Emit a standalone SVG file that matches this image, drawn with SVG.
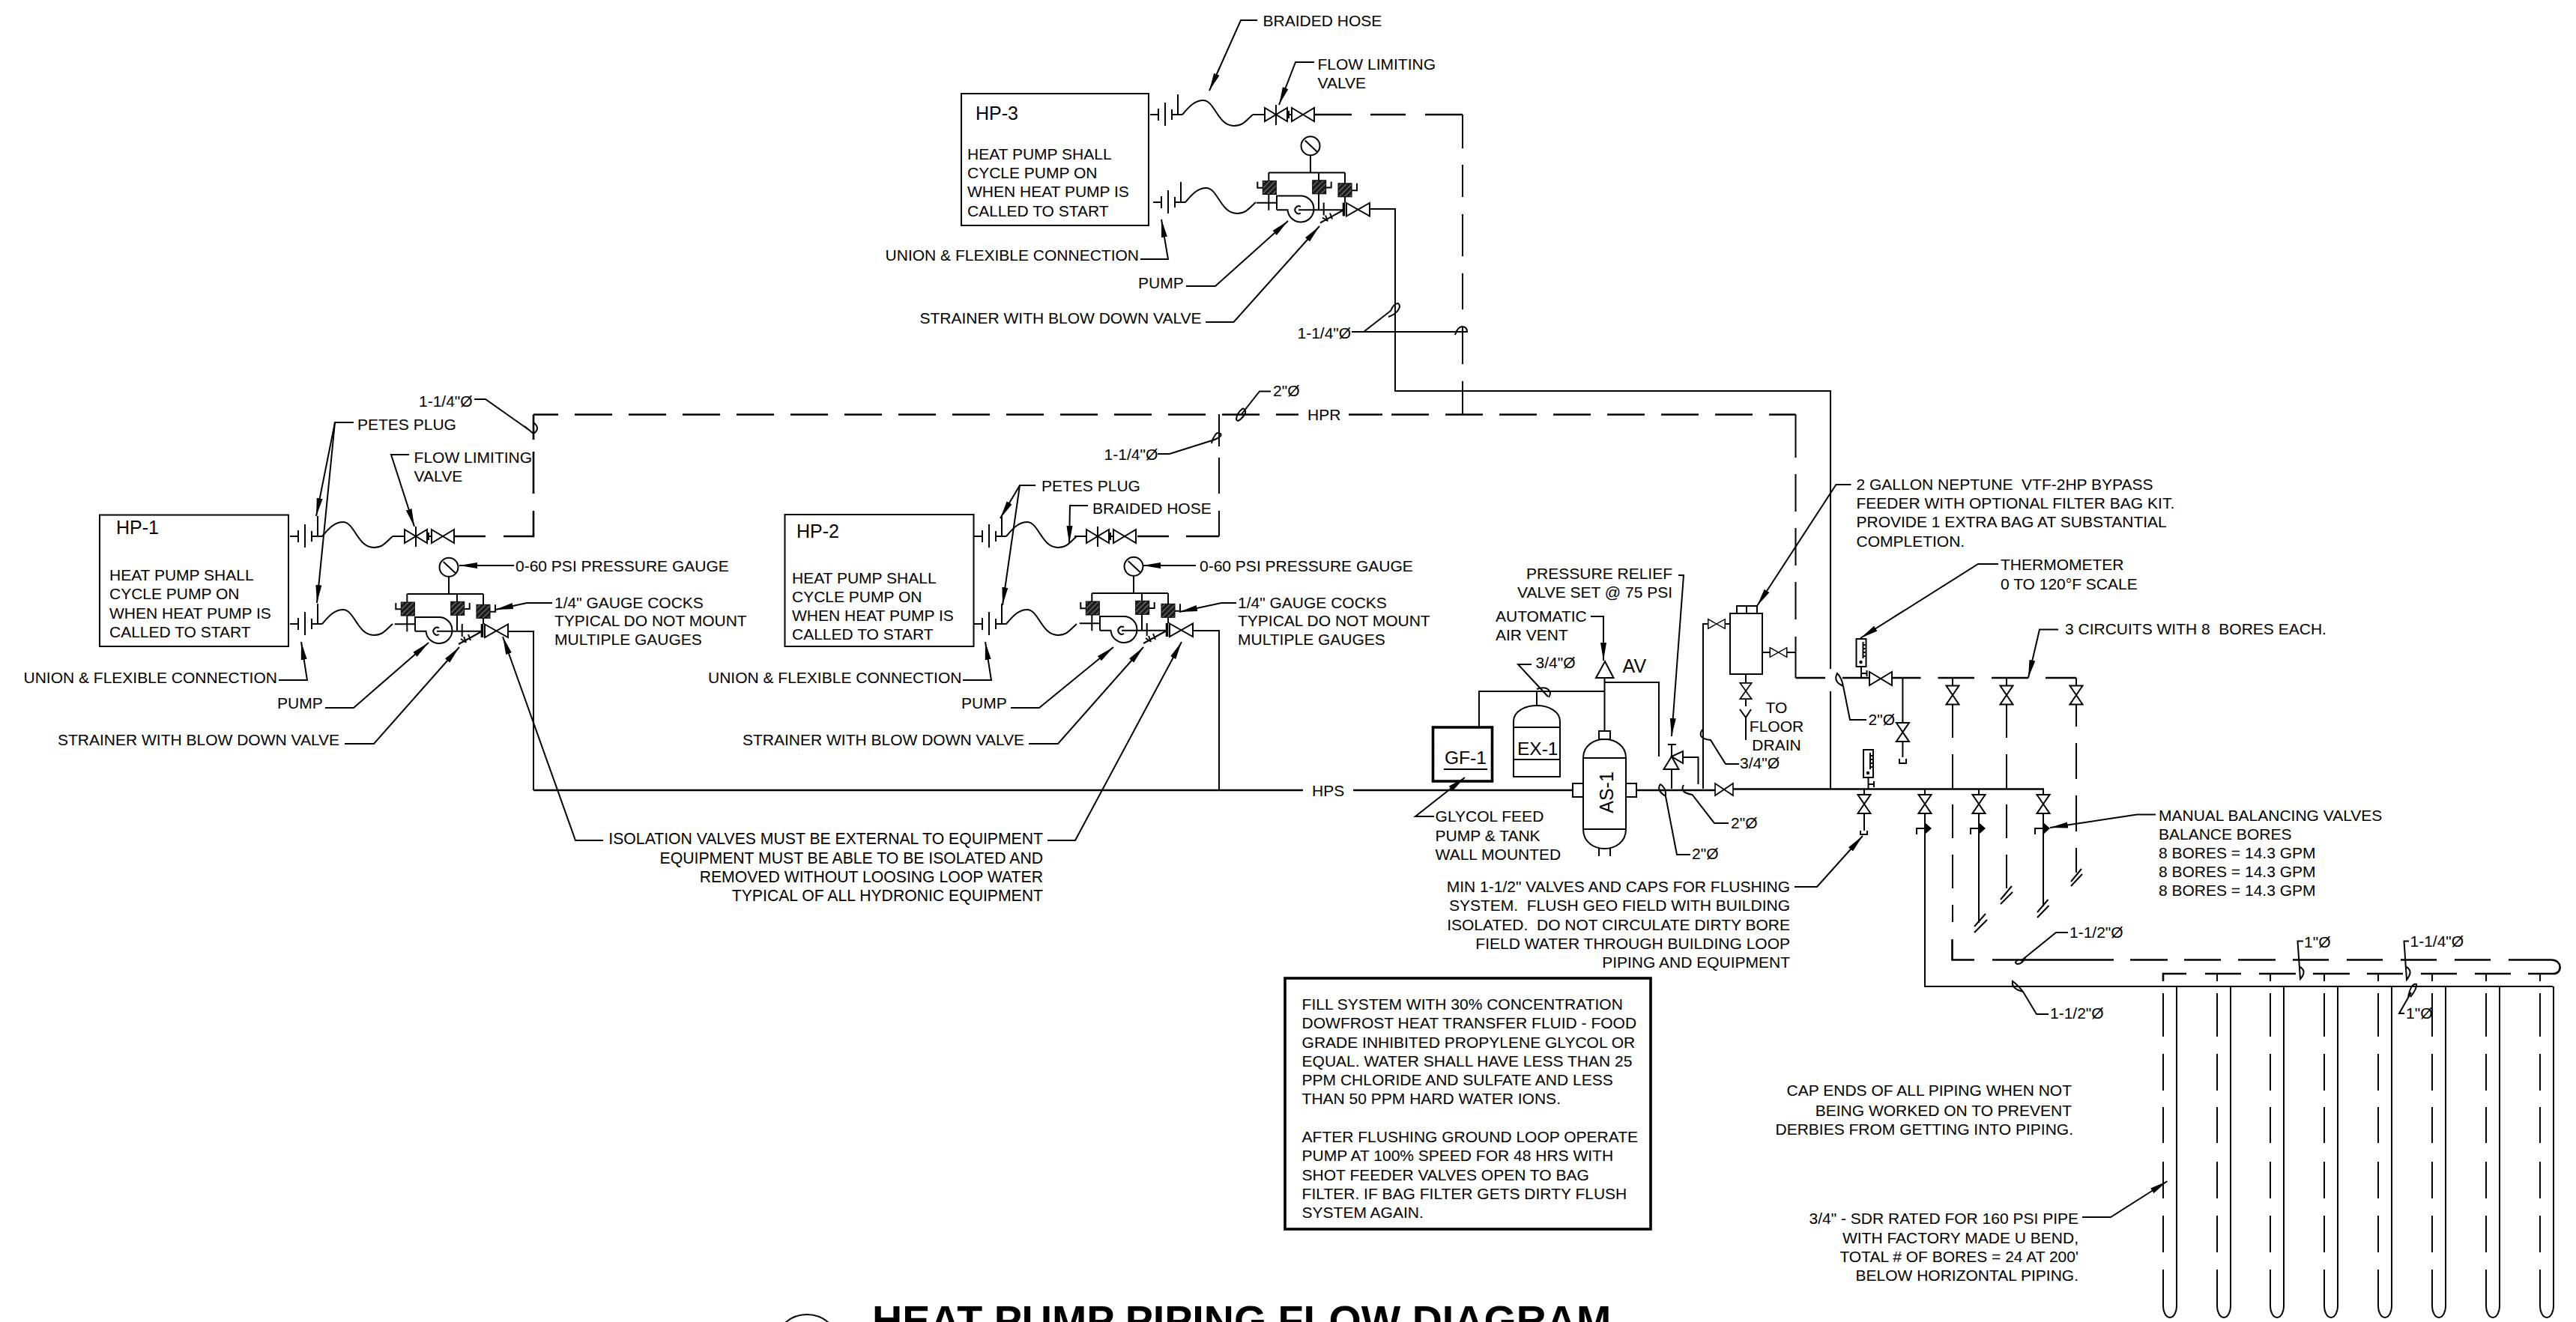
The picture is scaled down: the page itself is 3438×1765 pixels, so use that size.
<svg xmlns="http://www.w3.org/2000/svg" width="3438" height="1765" viewBox="0 0 3438 1765">
<style>
.l{fill:none;stroke:#000;stroke-width:2}
.h{fill:none;stroke:#000;stroke-width:2.6}
.k{fill:none;stroke:#000;stroke-width:3.6}
.w{fill:#fff;stroke:#000;stroke-width:2}
.dd{stroke-dasharray:50 22}
.t{font-family:"Liberation Sans",Arial,sans-serif;font-size:21px;fill:#000;white-space:pre}
.r{text-anchor:end}
.c{text-anchor:middle}
.b{font-size:25px}
.a{fill:none;stroke:#000;stroke-width:2;marker-end:url(#arr)}
.title{font-family:"Liberation Sans",Arial,sans-serif;font-weight:700;font-size:55.6px;fill:#000}
</style>
<defs>
<marker id="arr" markerUnits="userSpaceOnUse" markerWidth="26" markerHeight="12" refX="24" refY="6" orient="auto"><path d="M0,2 L24,6 L0,10Z" fill="#000"/></marker>
<pattern id="hatch" width="5" height="5" patternUnits="userSpaceOnUse" patternTransform="rotate(45)"><rect width="5" height="5" fill="#1c1c1c"/><rect width="0.8" height="5" fill="#999"/></pattern>
<g id="flex"><path class="l" d="M2,0 H13 M13,-8 V8 M22,-16 V15 M31,-7 V7 M31,0 H45 M39,0 V-27 M45,0 C55,-12 62,-19 73,-19 C88,-19 92,15 114,15 C126,15 130,8 139,0"/></g>
<g id="vh"><path class="w" d="M-15,-9 L15,9 V-9 L-15,9Z"/></g>
<g id="vv"><path class="w" d="M-8.5,-12.5 L8.5,12.5 H-8.5 L8.5,-12.5Z"/></g>
<g id="fl"><use href="#vh" x="170"/><path class="l" d="M170,-13 V14 M139,0 H155 M185,0 H191 M187,-5 V5"/><use href="#vh" x="206"/></g>
<g id="pump">
<circle class="w" cx="119" cy="37.3" r="12.5" stroke-width="2.4"/>
<path class="l" d="M111.7,30 L127.7,45 M119,50 V73 M63.3,73 H165 M63.3,73 V123.3 M130,73 V122 M165,73 V113 M48.3,85 V93.3 H55.3 M139.7,93 H146.7 V85 M174,96.7 H181 V87.3 M46.7,113.3 H74"/>
<rect x="55.3" y="84" width="18" height="18" fill="url(#hatch)" stroke="#000"/>
<rect x="121.7" y="83.3" width="18" height="18" fill="url(#hatch)" stroke="#000"/>
<rect x="156" y="87.3" width="18" height="18" fill="url(#hatch)" stroke="#000"/>
<path class="l" d="M74,122.7 V104 H106 A17.5,17.5 0 1 1 88.5,122.7 H74 M106,118.5 A5,5 0 1 0 106,127 M103,122.7 H165 M136.7,113 V130 M163,123 L132,140 M139,130 l3,8 M145,127 l3,8 M135,133 l6,4"/>
<path class="k" d="M163.5,113 V131"/>
<path class="w" d="M167,113.5 L198,131 V113.5 L167,131Z"/>
</g>
<g id="therm"><rect class="w" x="0" y="0" width="13" height="37"/><path class="l" stroke-width="1" d="M9,4 V26 M9,8 h3 M9,13 h3 M9,18 h3 M9,23 h3 M6.5,37 V52 M6.5,46 H14 M14,42 V50"/><circle cx="6" cy="31" r="2.2"/></g>
<g id="bv"><path d="M0,-8 L9,0 L0,8Z"/><path class="l" d="M0,0 H-11 V8"/></g>
<g id="bore"><path class="l" d="M0,1300 V1310 M0,1326 V1384 M0,1407 V1456 M0,1478 V1526 M0,1551 V1600 M0,1623 V1672 M0,1695 V1744 A9,15 0 0 0 18,1744 V1317"/></g>
</defs>

<g id="connectors">
<!-- HPR return -->
<path class="h" d="M648,716 H606 M672,716 H712 V682 M712,659 V603 M712,587 V553.5"/>
<path class="h dd" stroke-dashoffset="17" d="M712,553.5 H1733"/>
<path class="h dd" d="M1800,553.5 H1845"/>
<path class="h dd" d="M1857,553.5 H2396.5"/>
<path class="l" d="M2396.5,553 V611 M2396.5,633 V683 M2396.5,705 V755 M2396.5,777 V827 M2396.5,850 V905"/>
<path class="h" d="M2396.5,905 H2436 M2459,905 H2498 M2522,905 H2563.5 M2586.5,905 H2635 M2658,905 H2707 M2730,905 H2771"/>
<!-- HP-2 return riser -->
<path class="l" d="M1627,553 V596 M1627,611 V659 M1627,682 V716"/>
<path class="h" d="M1518,716 H1560 M1583,716 H1627"/>
<!-- HP-3 return riser -->
<path class="h" d="M1754,153 H1804 M1829,153 H1876 M1902,153 H1952"/>
<path class="l" d="M1952,153 V198 M1952,220 V263 M1952,286 V342 M1952,365 V413 M1952,437 V486 M1952,509 V553"/>
<!-- HPS supply -->
<path class="l" d="M678,843 H712 V1055"/>
<path class="h" d="M712,1055 H1739 M1806,1055 H2099"/>
<path class="l" d="M1592,842 H1627 V1055"/>
<path class="l" d="M1827,279 H1862 V522 H2443 V893 M2443,923 V1053"/>
<!-- plant pipes -->
<path class="h" d="M2184,1055 H2289 M2313,1053.5 H2728"/>
<path class="l" d="M1974,970 V923 H2141.5 M2141.5,976 V905 M2141.5,911 H2214 V1010 M2231,1053 V1027 M2231,1010 V994 M2226,994 H2237 M2246,1011 H2266.5 V1047 M2273,1053 V833 H2280 M2302,833 H2309 M2352,871 H2363 M2384,871 H2396.5 M2330,900 V912 M2330,933 V943 M2322,947 L2330,958 L2337,947 M2330,958 V988 M2051,923 V942"/>
<!-- field piping -->
<path class="l" d="M2539.4,905 V965 M2539.4,990 V1011 M2535,1013 V1019 H2544 V1013"/>
<path class="l" d="M2606,905 V916 M2678,905 V916 M2771,905 V916"/>
<path class="l" stroke-dasharray="45 22" d="M2606,940 V1231"/>
<path class="l" stroke-dasharray="45 22" d="M2678,940 V1189"/>
<path class="l" stroke-dasharray="48 22" stroke-dashoffset="18" d="M2771,940 V1165"/>
<path class="l" d="M2778,1160 L2764,1177 M2779,1167 L2764,1183 M2685,1183 L2670,1201 M2686,1191 L2670,1207 M2733.5,1201 L2719,1218 M2734.5,1209 L2719,1225 M2650,1220 L2635,1237 M2652,1228 L2635,1245"/>
<path class="l" d="M2488,1053 V1061 M2488,1086 V1109 M2483,1109 V1114 H2492 V1109"/>
<path class="l" d="M2569,1053 V1061 M2641,1053 V1061 M2727,1053 V1061 M2569,1086 V1317 H3407 M2641,1086 V1232 M2727,1086 V1210"/>
<path class="h" d="M2605.5,1254 V1281.5 H2635 M2659,1281.5 H2821 M2843,1281.5 H2893 M2915,1281.5 H2964 M2987,1281.5 H3037 M3060,1281.5 H3108 M3132,1281.5 H3180 M3204,1281.5 H3252 M3276,1281.5 H3324 M3348,1281.5 H3405 C3420,1281.5 3420,1300 3408,1300 H3374 M3351,1300 H3303 M3279,1300 H3231 M3207,1300 H3159 M3136,1300 H3087 M3064,1300 H3015 M2991,1300 H2943 M2918,1300 H2887 V1310"/>
</g>

<g id="leaders">
<!-- HP-1 -->
<path class="a" d="M472,564 H447 L422,689"/><path class="a" d="M447,564 L423,805"/>
<path class="a" d="M546,607 H522 L553,703"/>
<path class="l" d="M633,533 H648 L706,574 M700,569 L712,579 Q722,572 712,564"/>
<path class="a" d="M686,755 H613"/>
<path class="a" d="M737,805 H703 L661,814"/>
<path class="a" d="M372,908 H410 L402,857"/>
<path class="a" d="M434,945 H472 L572,858"/>
<path class="a" d="M460,993 H499 L613,864"/>
<path class="a" d="M805,1122 H768 L671,850"/>
<!-- HP-2 -->
<path class="a" d="M1382,648 H1361 L1335,692"/><path class="a" d="M1361,648 L1338,808"/>
<path class="a" d="M1452,675 H1428 L1427,726"/>
<path class="l" d="M1545,606 H1561 L1621,587 Q1632,582 1629,579 Q1624,576 1621,582 Q1618,586 1617,592"/>
<path class="l" d="M1696,522.5 H1681 L1657,553 M1659,545 Q1665,549 1660,555 Q1652,565 1650,560 Q1650,552 1659,545"/>
<path class="a" d="M1596,755 H1525"/>
<path class="a" d="M1650,805 H1630 L1574,817"/>
<path class="a" d="M1285,908 H1323 L1315,857"/>
<path class="a" d="M1349,945 H1387 L1486,864"/>
<path class="a" d="M1373,993 H1412 L1526,864"/>
<path class="a" d="M1398,1122 H1435 L1577,857"/>
<!-- HP-3 -->
<path class="a" d="M1678,27 H1656 L1614,121"/>
<path class="a" d="M1754,83 H1729 L1707,140"/>
<path class="a" d="M1522,346 H1559 L1550,293"/>
<path class="a" d="M1583,382 H1622 L1719,295"/>
<path class="a" d="M1609,430 H1646.5 L1761,302"/>
<path class="l" d="M1804,443 H1958 Q1958,436 1951,436 Q1945,437 1942,447 M1820,443 L1856,415 Q1860,405 1866,405 Q1870,408 1866,414 Q1862,420 1853,423"/>
<!-- plant -->
<path class="a" d="M1914,1090 H1889 L1955,1038"/>
<path class="a" d="M2123,823 H2140 V882"/>
<path class="a" d="M2240,768 H2247 L2231,983"/>
<path class="l" d="M2044,887 H2026 L2066,930 M2051,920 Q2066,915 2069,925 Q2069,928 2067,931"/>
<path class="l" d="M2256,1141 H2238 L2223,1063 Q2210,1055 2216,1047 Q2224,1052 2223,1063"/>
<path class="l" d="M2307,1099 H2288 L2258.5,1061 Q2241,1058 2247,1048"/>
<path class="l" d="M2321,1020 H2303 L2283,988 Q2264,986 2272,974"/>
<path class="a" d="M2470.5,647 H2450.5 L2345,809"/>
<path class="a" d="M2667,753 H2640 L2483,852"/>
<path class="a" d="M2747,840.5 H2722 L2707,905"/>
<path class="l" d="M2491,961 H2469 L2460,916 Q2446,910 2452,899 Q2458,905 2460,916"/>
<path class="a" d="M2395,1184 H2425 L2486,1116"/>
<path class="a" d="M2877,1087.6 H2852 L2736,1105"/>
<path class="l" d="M2760,1245 H2744 L2697,1283 M2703,1279 Q2698,1288 2692,1287 Q2687,1285 2694,1281"/>
<path class="l" d="M2734,1354 H2718 L2700,1324 Q2684,1320 2686,1310 Q2692,1314 2700,1324"/>
<path class="l" d="M3074,1256.6 H3066.5 L3070,1307 Q3080,1296 3068,1290"/>
<path class="l" d="M3215,1256.6 H3208.5 L3212,1308 Q3222,1296 3210,1290"/>
<path class="l" d="M3209,1353 H3202 L3218,1325 M3214,1331 Q3218,1312 3225,1314 Q3226,1320 3217,1331"/>
<path class="a" d="M2779,1625 H2817 L2892.5,1577"/>
</g>

<g id="hp-1">
<rect class="l" x="133" y="687.5" width="252" height="175.5"/>
<text class="t b" x="155" y="713">HP-1</text>
<text class="t" x="146" y="775">HEAT PUMP SHALL</text>
<text class="t" x="146" y="800">CYCLE PUMP ON</text>
<text class="t" x="146" y="826">WHEN HEAT PUMP IS</text>
<text class="t" x="146" y="851">CALLED TO START</text>
<use href="#flex" x="385" y="716"/><use href="#fl" x="385" y="716"/>
<use href="#flex" x="385" y="833"/><use href="#pump" x="480" y="720"/>
</g>
<g id="hp-2">
<rect class="l" x="1047.5" y="687" width="252" height="176"/>
<text class="t b" x="1063" y="718">HP-2</text>
<text class="t" x="1057" y="778.6">HEAT PUMP SHALL</text>
<text class="t" x="1057" y="803.6">CYCLE PUMP ON</text>
<text class="t" x="1057" y="829">WHEN HEAT PUMP IS</text>
<text class="t" x="1057" y="854">CALLED TO START</text>
<use href="#flex" x="1298" y="716"/><use href="#fl" x="1295" y="716"/>
<use href="#flex" x="1298" y="833"/><use href="#pump" x="1394" y="719"/>
</g>
<g id="hp-3">
<rect class="l" x="1283" y="125" width="250" height="176"/>
<text class="t b" x="1302" y="160">HP-3</text>
<text class="t" x="1291" y="213">HEAT PUMP SHALL</text>
<text class="t" x="1291" y="238">CYCLE PUMP ON</text>
<text class="t" x="1291" y="263">WHEN HEAT PUMP IS</text>
<text class="t" x="1291" y="289">CALLED TO START</text>
<use href="#flex" x="1533" y="153"/><use href="#fl" x="1533" y="153"/>
<use href="#flex" x="1537" y="270"/><use href="#pump" x="1630" y="157.5"/>
</g>

<g id="gf-1">
<rect class="k" x="1912.5" y="971" width="79" height="72"/>
<text class="t" style="font-size:24.5px" x="1928" y="1020">GF-1</text>
<path class="l" d="M1927,1027 H1985"/>
</g>
<g id="ex-1">
<path class="l" d="M2020,1037 V963 C2020,950 2035,942 2051,942 C2067,942 2082,950 2082,963 V1037 Z M2020,971 H2082 M2020,1014 H2082"/>
<text class="t" style="font-size:24.5px" x="2025" y="1008">EX-1</text>
</g>
<g id="as-1">
<path class="w" d="M2099,1046 H2116 V1064 H2099Z M2168,1046 H2184 V1064 H2168Z M2134,976 H2149 V987 H2134Z"/>
<path class="w" d="M2113,1012 C2113,995 2128,987 2141.5,987 C2155,987 2170,995 2170,1012 V1107 C2170,1125 2155,1133 2141.5,1133 C2128,1133 2113,1125 2113,1107 Z M2113,1012 H2170 M2113,1107 H2170"/>
<path class="l" d="M2134,1132 V1143 M2149,1132 V1143"/>
<text class="t c" style="font-size:25px" transform="translate(2153,1058) rotate(-90)">AS-1</text>
</g>
<g id="air-vent">
<path class="w" d="M2142,883 L2153.5,905 H2130Z"/>
<text class="t b" x="2165.6" y="898">AV</text>
</g>
<g id="relief-valve">
<path class="w" d="M2231,1010 L2240.5,1027 H2220.5Z M2231,1010 L2246,1003 V1019Z"/>
</g>
<g id="feeder">
<path class="w" d="M2318,809 H2345 V819 H2318Z"/><path class="l" d="M2331,809 V819"/>
<rect class="w" x="2309" y="819" width="43" height="81"/>
<use href="#vh" transform="translate(2291,833) scale(.75,.7)"/>
<use href="#vh" transform="translate(2373.5,871) scale(.75,.7)"/>
<use href="#vv" transform="translate(2330,922.5) scale(.9,.85)"/>
</g>
<g id="valves">
<use href="#vh" transform="translate(2301,1054) scale(.8,.9)"/>
<use href="#vh" x="2510" y="906"/>
<use href="#vv" x="2539.4" y="977.5"/>
<use href="#vv" x="2606" y="928"/><use href="#vv" x="2678" y="928"/><use href="#vv" x="2771" y="928"/>
<use href="#vv" x="2488" y="1073.5"/><use href="#vv" x="2569" y="1073.5"/><use href="#vv" x="2641" y="1073.5"/><use href="#vv" x="2727" y="1073.5"/>
<use href="#bv" x="2569" y="1106"/><use href="#bv" x="2641" y="1106"/><use href="#bv" x="2727" y="1106"/>
<use href="#therm" x="2477.5" y="853"/><use href="#therm" x="2487" y="1001"/>
</g>
<g id="bores">
<use href="#bore" x="2887"/><use href="#bore" x="2959"/><use href="#bore" x="3030"/><use href="#bore" x="3102"/><use href="#bore" x="3174"/><use href="#bore" x="3246"/><use href="#bore" x="3318"/><use href="#bore" x="3390"/>
</g>

<g id="labels">
<text class="t" x="477" y="574">PETES PLUG</text>
<text class="t" x="552.6" y="618">FLOW LIMITING</text>
<text class="t" x="552.6" y="643">VALVE</text>
<text class="t" x="559" y="543">1-1/4"Ø</text>
<text class="t" x="688" y="763">0-60 PSI PRESSURE GAUGE</text>
<text class="t" x="740" y="812">1/4" GAUGE COCKS</text>
<text class="t" x="740" y="836">TYPICAL DO NOT MOUNT</text>
<text class="t" x="740" y="861">MULTIPLE GAUGES</text>
<text class="t" x="31.5" y="912">UNION &amp; FLEXIBLE CONNECTION</text>
<text class="t" x="370" y="946">PUMP</text>
<text class="t" x="77" y="995">STRAINER WITH BLOW DOWN VALVE</text>
<text class="t r" style="font-size:21.2px" x="1392" y="1127">ISOLATION VALVES MUST BE EXTERNAL TO EQUIPMENT</text>
<text class="t r" style="font-size:21.2px" x="1392" y="1153">EQUIPMENT MUST BE ABLE TO BE ISOLATED AND</text>
<text class="t r" style="font-size:21.2px" x="1392" y="1178">REMOVED WITHOUT LOOSING LOOP WATER</text>
<text class="t r" style="font-size:21.2px" x="1392" y="1203">TYPICAL OF ALL HYDRONIC EQUIPMENT</text>

<text class="t" x="1390" y="656">PETES PLUG</text>
<text class="t" x="1458" y="686">BRAIDED HOSE</text>
<text class="t" x="1473.6" y="614">1-1/4"Ø</text>
<text class="t" x="1699" y="528.6">2"Ø</text>
<text class="t" x="1745" y="561">HPR</text>
<text class="t" x="1601" y="763">0-60 PSI PRESSURE GAUGE</text>
<text class="t" x="1652" y="812">1/4" GAUGE COCKS</text>
<text class="t" x="1652" y="836">TYPICAL DO NOT MOUNT</text>
<text class="t" x="1652" y="861">MULTIPLE GAUGES</text>
<text class="t" x="945" y="912">UNION &amp; FLEXIBLE CONNECTION</text>
<text class="t" x="1283" y="946">PUMP</text>
<text class="t" x="991" y="995">STRAINER WITH BLOW DOWN VALVE</text>
<text class="t" x="1751" y="1063">HPS</text>

<text class="t" x="1685.6" y="35">BRAIDED HOSE</text>
<text class="t" x="1758.5" y="93">FLOW LIMITING</text>
<text class="t" x="1758.5" y="118">VALVE</text>
<text class="t" x="1181.6" y="348">UNION &amp; FLEXIBLE CONNECTION</text>
<text class="t" x="1519" y="385">PUMP</text>
<text class="t" x="1227.5" y="432">STRAINER WITH BLOW DOWN VALVE</text>
<text class="t" x="1731.5" y="452">1-1/4"Ø</text>

<text class="t" x="1915.6" y="1097">GLYCOL FEED</text>
<text class="t" x="1915.6" y="1123">PUMP &amp; TANK</text>
<text class="t" x="1915.6" y="1148">WALL MOUNTED</text>
<text class="t" x="1996" y="830">AUTOMATIC</text>
<text class="t" x="1996" y="855">AIR VENT</text>
<text class="t" x="2049.6" y="892">3/4"Ø</text>
<text class="t r" x="2232" y="773">PRESSURE RELIEF</text>
<text class="t r" x="2232" y="798">VALVE SET @ 75 PSI</text>
<text class="t" x="2258" y="1147">2"Ø</text>
<text class="t" x="2310" y="1106">2"Ø</text>
<text class="t" x="2322" y="1026">3/4"Ø</text>
<text class="t c" x="2371" y="952">TO</text>
<text class="t c" x="2371" y="977">FLOOR</text>
<text class="t c" x="2371" y="1002">DRAIN</text>
<text class="t" x="2477.5" y="653.6">2 GALLON NEPTUNE  VTF-2HP BYPASS</text>
<text class="t" x="2477.5" y="679">FEEDER WITH OPTIONAL FILTER BAG KIT.</text>
<text class="t" x="2477.5" y="704">PROVIDE 1 EXTRA BAG AT SUBSTANTIAL</text>
<text class="t" x="2477.5" y="729.5">COMPLETION.</text>
<text class="t" x="2670" y="761">THERMOMETER</text>
<text class="t" x="2670" y="787">0 TO 120°F SCALE</text>
<text class="t" x="2756" y="847">3 CIRCUITS WITH 8  BORES EACH.</text>
<text class="t" x="2493.5" y="968">2"Ø</text>
<text class="t" x="2881" y="1095.5">MANUAL BALANCING VALVES</text>
<text class="t" x="2881" y="1121">BALANCE BORES</text>
<text class="t" x="2881" y="1146">8 BORES = 14.3 GPM</text>
<text class="t" x="2881" y="1171">8 BORES = 14.3 GPM</text>
<text class="t" x="2881" y="1196">8 BORES = 14.3 GPM</text>
<text class="t r" x="2389" y="1191">MIN 1-1/2" VALVES AND CAPS FOR FLUSHING</text>
<text class="t r" x="2389" y="1216">SYSTEM.  FLUSH GEO FIELD WITH BUILDING</text>
<text class="t r" x="2389" y="1242">ISOLATED.  DO NOT CIRCULATE DIRTY BORE</text>
<text class="t r" x="2389" y="1267">FIELD WATER THROUGH BUILDING LOOP</text>
<text class="t r" x="2389" y="1292">PIPING AND EQUIPMENT</text>
<text class="t" x="2762" y="1252">1-1/2"Ø</text>
<text class="t" x="2736" y="1360">1-1/2"Ø</text>
<text class="t" x="3075" y="1265">1"Ø</text>
<text class="t" x="3216.5" y="1264">1-1/4"Ø</text>
<text class="t" x="3211" y="1360">1"Ø</text>
<text class="t r" x="2765" y="1463">CAP ENDS OF ALL PIPING WHEN NOT</text>
<text class="t r" x="2765" y="1490">BEING WORKED ON TO PREVENT</text>
<text class="t r" x="2767" y="1515">DERBIES FROM GETTING INTO PIPING.</text>
<text class="t r" x="2774" y="1634">3/4" - SDR RATED FOR 160 PSI PIPE</text>
<text class="t r" x="2774" y="1660">WITH FACTORY MADE U BEND,</text>
<text class="t r" x="2774" y="1685">TOTAL # OF BORES = 24 AT 200'</text>
<text class="t r" x="2774" y="1710">BELOW HORIZONTAL PIPING.</text>
</g>

<g id="note">
<rect class="k" x="1715" y="1306" width="488" height="335"/>
<text class="t" x="1737.6" y="1348">FILL SYSTEM WITH 30% CONCENTRATION</text>
<text class="t" x="1737.6" y="1373">DOWFROST HEAT TRANSFER FLUID - FOOD</text>
<text class="t" x="1737.6" y="1399">GRADE INHIBITED PROPYLENE GLYCOL OR</text>
<text class="t" x="1737.6" y="1424">EQUAL. WATER SHALL HAVE LESS THAN 25</text>
<text class="t" x="1737.6" y="1449">PPM CHLORIDE AND SULFATE AND LESS</text>
<text class="t" x="1737.6" y="1474">THAN 50 PPM HARD WATER IONS.</text>
<text class="t" x="1737.6" y="1525">AFTER FLUSHING GROUND LOOP OPERATE</text>
<text class="t" x="1737.6" y="1550">PUMP AT 100% SPEED FOR 48 HRS WITH</text>
<text class="t" x="1737.6" y="1576">SHOT FEEDER VALVES OPEN TO BAG</text>
<text class="t" x="1737.6" y="1601">FILTER. IF BAG FILTER GETS DIRTY FLUSH</text>
<text class="t" x="1737.6" y="1626">SYSTEM AGAIN.</text>
</g>

<g id="title">
<circle class="l" cx="1077" cy="1799" r="44"/>
<text class="title" x="1164" y="1782">HEAT PUMP PIPING FLOW DIAGRAM</text>
</g>
</svg>
